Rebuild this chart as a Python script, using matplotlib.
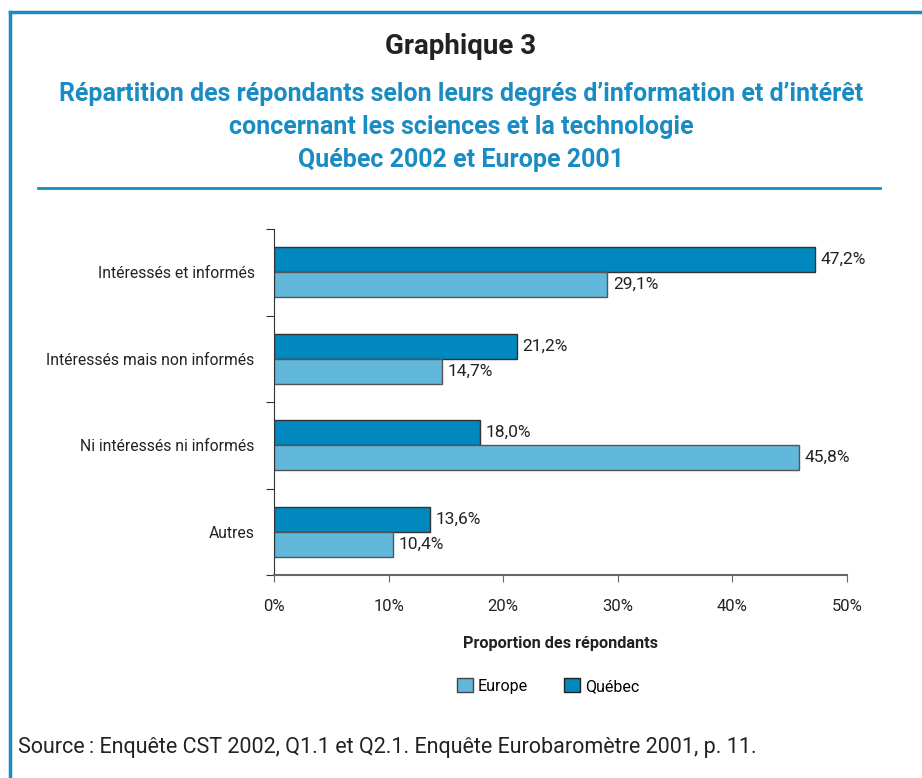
import matplotlib.pyplot as plt
from matplotlib.lines import Line2D
from matplotlib.patches import Patch

plt.rcParams['font.family'] = ['Roboto', 'DejaVu Sans']

# data
categories = ['Intéressés et informés', 'Intéressés mais non informés',
              'Ni intéressés ni informés', 'Autres']
quebec = [47.2, 21.2, 18.0, 13.6]
europe = [29.1, 14.7, 45.8, 10.4]
xticks = [0, 10, 20, 30, 40, 50]

c_quebec = '#0088bf'
c_europe = '#62b8da'
c_frame = '#1a8cc4'
c_text = '#222222'

fig = plt.figure(figsize=(9.22, 7.78), dpi=100)

# frame lines (top and left) and title rule
fig.add_artist(Line2D([10/922, 1], [1 - 12/778, 1 - 12/778], color=c_frame, lw=2.5))
fig.add_artist(Line2D([10/922, 10/922], [0, 1 - 12/778], color=c_frame, lw=2.5))
fig.add_artist(Line2D([38/922, 880/922], [1 - 188/778, 1 - 188/778], color=c_frame, lw=2))

fig.text(0.5, 1 - 46/778, 'Graphique 3', ha='center', va='center',
         fontsize=20, fontweight='bold', color=c_text)
subtitle = ("Répartition des répondants selon leurs degrés d’information et d’intérêt\n"
            "concernant les sciences et la technologie\n"
            "Québec 2002 et Europe 2001")
fig.text(0.5, 1 - 127/778, subtitle, ha='center', va='center', fontsize=18,
         fontweight='bold', color=c_frame, linespacing=1.45)

ax = fig.add_axes([274/922, 203/778, 573/922, 346/778])

pos = list(range(len(categories)))
h = 0.29
ax.barh([p - h/2 for p in pos], quebec, height=h, color=c_quebec,
        edgecolor='#333333', linewidth=1, label='Québec')
ax.barh([p + h/2 for p in pos], europe, height=h, color=c_europe,
        edgecolor='#555555', linewidth=1, label='Europe')

for p, q, e in zip(pos, quebec, europe):
    ax.annotate(f'{q:.1f}%'.replace('.', ','), (q, p - h/2), xytext=(4, 0),
                textcoords='offset points', va='center', fontsize=12.5, color=c_text)
    ax.annotate(f'{e:.1f}%'.replace('.', ','), (e, p + h/2), xytext=(4, 0),
                textcoords='offset points', va='center', fontsize=12.5, color=c_text)

ax.set_ylim(3.5, -0.5)
ax.set_xlim(0, 50)
ax.set_yticks([-0.5, 0.5, 1.5, 2.5, 3.5])
ax.set_yticklabels([])
ax.set_yticks(pos, minor=True)
ax.set_yticklabels(categories, minor=True, fontsize=11.3, color=c_text)
ax.tick_params(axis='y', which='major', length=6, direction='out', color='#333333')
ax.tick_params(axis='y', which='minor', length=0, pad=14)
ax.set_xticks(xticks)
ax.set_xticklabels([f'{x}%' for x in xticks], fontsize=12, color=c_text)
ax.tick_params(axis='x', length=5, direction='out', color='#666666', pad=12)

for s in ['top', 'right']:
    ax.spines[s].set_visible(False)
ax.spines['left'].set_color('#333333')
ax.spines['bottom'].set_color('#666666')
ax.spines['bottom'].set_linewidth(1.5)

ax.set_xlabel('Proportion des répondants', fontsize=11.7, fontweight='bold',
              color=c_text, labelpad=16)

handles = [Patch(facecolor=c_europe, edgecolor='#444444', label='Europe'),
           Patch(facecolor=c_quebec, edgecolor='#222222', label='Québec')]
fig.legend(handles=handles, loc='center', bbox_to_anchor=(548/922, 1 - 686/778),
           ncol=2, frameon=False, fontsize=11.5, handlelength=1, handleheight=1,
           handletextpad=0.3, columnspacing=2.3)

fig.text(18/922, 1 - 748/778,
         'Source\u2009: Enquête CST 2002, Q1.1 et Q2.1. Enquête Eurobaromètre 2001, p. 11.',
         ha='left', va='center', fontsize=15.5, color=c_text)

fig.savefig('out.png', dpi=100)
